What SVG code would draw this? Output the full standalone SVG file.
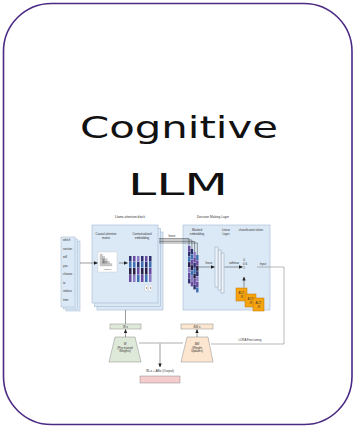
<svg xmlns="http://www.w3.org/2000/svg" width="355" height="429" viewBox="0 0 355 429">
  <defs>
    <marker id="ah" markerWidth="4" markerHeight="4" refX="3.6" refY="2" orient="auto" markerUnits="userSpaceOnUse">
      <path d="M0,0.3 L4,2 L0,3.7 z" fill="#222"/>
    </marker>
  </defs>
  <style>
    .t{font-family:"Liberation Sans",Arial,sans-serif;font-size:2.9px;fill:#333}
    .tb{font-family:"Liberation Sans",Arial,sans-serif;font-size:3.2px;fill:#333}
    .title{font-family:"DejaVu Sans","Noto Sans",sans-serif;font-size:31px;fill:#111}
    .panel{fill:#dbe8f5;stroke:#a3b9cf;stroke-width:0.6}
    .card{fill:#dbe8f5;stroke:#a3b9cf;stroke-width:0.5}
    .ln{fill:#eef3f9;stroke:#8fa3b8;stroke-width:0.5}
    .act{fill:#f5a30f;stroke:#c27a00;stroke-width:0.5}
    .c1{fill:#6a4aa0}.c2{fill:#2e2f6c}.c3{fill:#3f6fb0}.c4{fill:#2a1f45}.c5{fill:#8a78c0}
    .wire{fill:none;stroke:#222;stroke-width:0.45}
    .gwire{fill:none;stroke:#8a8a8a;stroke-width:0.6}
    .bar{fill:none;stroke:#c8c8c8;stroke-width:1.4}
  </style>

  <rect width="355" height="429" fill="#ffffff"/>
  <!-- card frame -->
  <rect x="3.5" y="3.5" width="348.5" height="421" rx="48" ry="48" fill="none" stroke="#4b2a84" stroke-width="1.6"/>

  <g id="title">
    <text class="title" x="80" y="138" textLength="198" lengthAdjust="spacingAndGlyphs">Cognitive</text>
    <text class="title" x="128" y="195" textLength="100" lengthAdjust="spacingAndGlyphs">LLM</text>
  </g>

  <!-- input tokens -->
  <g id="tokens">
    <rect class="card" x="66" y="241" width="14" height="70"/>
    <rect class="card" x="63.5" y="239" width="14" height="70"/>
    <rect class="card" x="61" y="237" width="14" height="70"/>
    <text class="t" x="63" y="241">which</text>
    <text class="t" x="63" y="249.5">section</text>
    <text class="t" x="63" y="258">will</text>
    <text class="t" x="63" y="266.5">you</text>
    <text class="t" x="63" y="275">choose</text>
    <text class="t" x="63" y="283.5">to</text>
    <text class="t" x="63" y="292">reduce</text>
    <text class="t" x="63" y="300.5">time</text>
  </g>

  <!-- attention block -->
  <g id="attention-block">
    <text class="tb" x="130" y="218" text-anchor="middle">Llama attention block</text>
    <rect class="panel" x="97" y="232" width="66" height="78"/>
    <rect class="panel" x="94.5" y="228.5" width="66" height="78"/>
    <rect class="panel" x="92" y="225" width="66" height="78"/>
    <text class="t" x="106" y="235" text-anchor="middle">Causal attention</text>
    <text class="t" x="106" y="239" text-anchor="middle">matrix</text>
    <text class="t" x="142" y="235" text-anchor="middle">Contextualized</text>
    <text class="t" x="142" y="239" text-anchor="middle">embedding</text>
    <!-- attention matrix -->
    <rect x="98" y="252" width="19" height="20" fill="#ffffff" stroke="#c7c7c7" stroke-width="0.4"/>
    <g fill="#c9c9c9" stroke="#9a9a9a" stroke-width="0.2">
      <rect x="100" y="254" width="2.4" height="2.4"/>
      <rect x="100" y="256.4" width="2.4" height="2.4"/><rect x="102.4" y="256.4" width="2.4" height="2.4"/>
      <rect x="100" y="258.8" width="2.4" height="2.4"/><rect x="102.4" y="258.8" width="2.4" height="2.4" fill="#8f8f8f"/><rect x="104.8" y="258.8" width="2.4" height="2.4"/>
      <rect x="100" y="261.2" width="2.4" height="2.4"/><rect x="102.4" y="261.2" width="2.4" height="2.4" fill="#777"/><rect x="104.8" y="261.2" width="2.4" height="2.4" fill="#9a9a9a"/><rect x="107.2" y="261.2" width="2.4" height="2.4"/>
      <rect x="100" y="263.6" width="2.4" height="2.4"/><rect x="102.4" y="263.6" width="2.4" height="2.4"/><rect x="104.8" y="263.6" width="2.4" height="2.4"/><rect x="107.2" y="263.6" width="2.4" height="2.4"/><rect x="109.6" y="263.6" width="2.4" height="2.4"/>
    </g>
    <text x="107.5" y="270" font-family="Liberation Sans, Arial, sans-serif" font-size="2.2" fill="#555" text-anchor="middle">masked</text>
    <!-- contextualized embedding columns -->
    <g>
      <rect class="c2" x="129" y="256" width="2.5" height="5.6"/><rect class="c3" x="129" y="262" width="2.5" height="5.6"/><rect class="c4" x="129" y="268" width="2.5" height="6.6"/><rect class="c1" x="129" y="275" width="2.5" height="7"/>
      <rect class="c1" x="133" y="256" width="2.5" height="5.6"/><rect class="c3" x="133" y="262" width="2.5" height="5.6"/><rect class="c4" x="133" y="268" width="2.5" height="6.6"/><rect class="c5" x="133" y="275" width="2.5" height="7"/>
      <rect class="c5" x="137" y="256" width="2.5" height="5.6"/><rect class="c2" x="137" y="262" width="2.5" height="5.6"/><rect class="c1" x="137" y="268" width="2.5" height="6.6"/><rect class="c3" x="137" y="275" width="2.5" height="7"/>
      <rect class="c2" x="141" y="256" width="2.5" height="5.6"/><rect class="c3" x="141" y="262" width="2.5" height="5.6"/><rect class="c4" x="141" y="268" width="2.5" height="6.6"/><rect class="c1" x="141" y="275" width="2.5" height="7"/>
      <rect class="c1" x="145" y="256" width="2.5" height="5.6"/><rect class="c2" x="145" y="262" width="2.5" height="5.6"/><rect class="c4" x="145" y="268" width="2.5" height="6.6"/><rect class="c3" x="145" y="275" width="2.5" height="7"/>
      <rect class="c2" x="149" y="256" width="2.5" height="5.6"/><rect class="c3" x="149" y="262" width="2.5" height="5.6"/><rect class="c1" x="149" y="268" width="2.5" height="6.6"/><rect class="c5" x="149" y="275" width="2.5" height="7"/>
      <rect x="145" y="285" width="2.8" height="6" fill="#ffffff" stroke="#b5b5b5" stroke-width="0.3"/>
      <rect x="149" y="285" width="2.8" height="6" fill="#ffffff" stroke="#b5b5b5" stroke-width="0.3"/>
      <rect x="146" y="287" width="0.8" height="2" fill="#999"/>
      <rect x="150" y="287" width="0.8" height="2" fill="#999"/>
    </g>
  </g>

  <!-- decision making layer -->
  <g id="decision-layer">
    <text class="tb" x="213" y="218" text-anchor="middle">Decision Making Layer</text>
    <rect class="panel" x="183" y="225" width="87" height="85"/>
    <text class="t" x="197" y="230.5" text-anchor="middle">Masked</text>
    <text class="t" x="197" y="234.5" text-anchor="middle">embedding</text>
    <text class="t" x="226" y="230.5" text-anchor="middle">Linear</text>
    <text class="t" x="226" y="234.5" text-anchor="middle">Layer</text>
    <text class="t" x="251" y="230.5" text-anchor="middle">classification token</text>
    <!-- masked embedding columns -->
    <g>
      <rect class="c1" x="188" y="246" width="2.4" height="5"/><rect class="c2" x="188" y="251.4" width="2.4" height="5"/><rect class="c3" x="188" y="256.8" width="2.4" height="5"/><rect class="c4" x="188" y="262.2" width="2.4" height="5"/><rect class="c5" x="188" y="267.6" width="2.4" height="5"/><rect class="c1" x="188" y="273" width="2.4" height="5"/><rect class="c2" x="188" y="278.4" width="2.4" height="5"/>
      <rect class="c2" x="190.7" y="249" width="2.4" height="5"/><rect class="c3" x="190.7" y="254.4" width="2.4" height="5"/><rect class="c1" x="190.7" y="259.8" width="2.4" height="5"/><rect class="c4" x="190.7" y="265.2" width="2.4" height="5"/><rect class="c3" x="190.7" y="270.6" width="2.4" height="5"/><rect class="c5" x="190.7" y="276" width="2.4" height="5"/><rect class="c1" x="190.7" y="281.4" width="2.4" height="5"/>
      <rect class="c5" x="193.4" y="252" width="2.4" height="5"/><rect class="c1" x="193.4" y="257.4" width="2.4" height="5"/><rect class="c2" x="193.4" y="262.8" width="2.4" height="5"/><rect class="c3" x="193.4" y="268.2" width="2.4" height="5"/><rect class="c4" x="193.4" y="273.6" width="2.4" height="5"/><rect class="c1" x="193.4" y="279" width="2.4" height="5"/><rect class="c2" x="193.4" y="284.4" width="2.4" height="5"/>
      <rect class="c3" x="196.1" y="255" width="2.4" height="5"/><rect class="c1" x="196.1" y="260.4" width="2.4" height="5"/><rect class="c4" x="196.1" y="265.8" width="2.4" height="5"/><rect class="c2" x="196.1" y="271.2" width="2.4" height="5"/><rect class="c5" x="196.1" y="276.6" width="2.4" height="5"/><rect class="c1" x="196.1" y="282" width="2.4" height="5"/><rect class="c3" x="196.1" y="287.4" width="2.4" height="5"/>
    </g>
    <text class="t" x="209" y="264" text-anchor="middle">linear</text>
    <!-- linear layer -->
    <rect class="ln" x="221" y="253" width="3" height="40"/>
    <rect class="ln" x="218" y="250" width="3" height="40"/>
    <rect class="ln" x="215" y="247" width="3" height="40"/>
    <text class="t" x="234" y="264" text-anchor="middle">softmax</text>
    <text class="t" x="244" y="261" text-anchor="middle">0</text>
    <text class="t" x="245" y="265" text-anchor="middle">0.6</text>
    <text class="t" x="244" y="269" text-anchor="middle">1</text>
    <text class="t" x="263" y="265" text-anchor="middle">Input</text>
  </g>

  <!-- ACT-R modules -->
  <g id="act-r">
    <rect class="act" x="236" y="288" width="11" height="13"/>
    <text class="t" x="241.5" y="294" text-anchor="middle">ACT</text>
    <text class="t" x="241.5" y="298" text-anchor="middle">-R</text>
    <rect class="act" x="245" y="294" width="11" height="13"/>
    <text class="t" x="250.5" y="300" text-anchor="middle">ACT</text>
    <text class="t" x="250.5" y="304" text-anchor="middle">-R</text>
    <rect class="act" x="253" y="298" width="11" height="13"/>
    <text class="t" x="258.5" y="304" text-anchor="middle">ACT</text>
    <text class="t" x="258.5" y="308" text-anchor="middle">-R</text>
  </g>

  <!-- LoRA nodes -->
  <g id="wx-box">
    <rect x="110" y="324" width="31" height="5" fill="#dfe9d9" stroke="#8a8a8a" stroke-width="0.5"/>
    <text class="t" x="125.5" y="327.6" text-anchor="middle">W x</text>
  </g>
  <g id="w-weights">
    <path d="M115,337 L135,337 L141,362 L109,362 Z" fill="#dfe9d9" stroke="#8a8a8a" stroke-width="0.5"/>
    <text class="t" x="125" y="345" text-anchor="middle">W</text>
    <text class="t" x="125" y="348.5" text-anchor="middle">(Pre-trained</text>
    <text class="t" x="125" y="352" text-anchor="middle">Weights)</text>
  </g>
  <g id="dwx-box">
    <rect x="181" y="324" width="32" height="5" fill="#fce6cf" stroke="#8a8a8a" stroke-width="0.5"/>
    <text class="t" x="197" y="327.6" text-anchor="middle">ΔW x</text>
  </g>
  <g id="dw-updates">
    <path d="M187,337 L208,337 L213,362 L181,362 Z" fill="#fce6cf" stroke="#8a8a8a" stroke-width="0.5"/>
    <text class="t" x="197" y="345" text-anchor="middle">ΔW</text>
    <text class="t" x="197" y="348.5" text-anchor="middle">(Weight</text>
    <text class="t" x="197" y="352" text-anchor="middle">Updates)</text>
  </g>
  <g id="output">
    <text class="tb" x="160" y="372" text-anchor="middle">W₀x + ABx (Output)</text>
    <rect x="140" y="376" width="40" height="7" fill="#f4cccc" stroke="#8a8a8a" stroke-width="0.5"/>
  </g>
  <g id="lora-label">
    <text class="t" x="250" y="340.5" text-anchor="middle">LORA Fine-tuning</text>
  </g>

  <!-- connectors -->
  <g id="connectors">
    <line class="wire" x1="80" y1="263" x2="97.5" y2="263" marker-end="url(#ah)"/>
    <line class="wire" x1="119" y1="263" x2="127.5" y2="263" marker-end="url(#ah)"/>
    <text class="t" x="172" y="236.5" text-anchor="middle">linear</text>
    <path class="wire" d="M159,238.5 H189 V246"/>
    <path class="wire" d="M159,240 H191.9 V249"/>
    <path class="wire" d="M159,241.5 H194.6 V252"/>
    <path class="wire" d="M159,243 H197.3 V255"/>
    <line class="wire" x1="199" y1="267" x2="214.5" y2="267" marker-end="url(#ah)"/>
    <line class="wire" x1="224.5" y1="267" x2="242.5" y2="267" marker-end="url(#ah)"/>
    <line class="wire" x1="244" y1="287.5" x2="244" y2="277" marker-end="url(#ah)"/>
    <path class="gwire" d="M257,267 H284 V344 H211"/>
    <line class="wire" x1="125.5" y1="310" x2="125.5" y2="324"/>
    <line class="wire" x1="125.5" y1="337" x2="125.5" y2="329.5" marker-end="url(#ah)"/>
    <line class="wire" x1="197" y1="337" x2="197" y2="329.5" marker-end="url(#ah)"/>
    <line class="bar" x1="139" y1="343" x2="183" y2="343"/>
    <line class="wire" x1="160" y1="343.7" x2="160" y2="367" marker-end="url(#ah)"/>
  </g>
</svg>
